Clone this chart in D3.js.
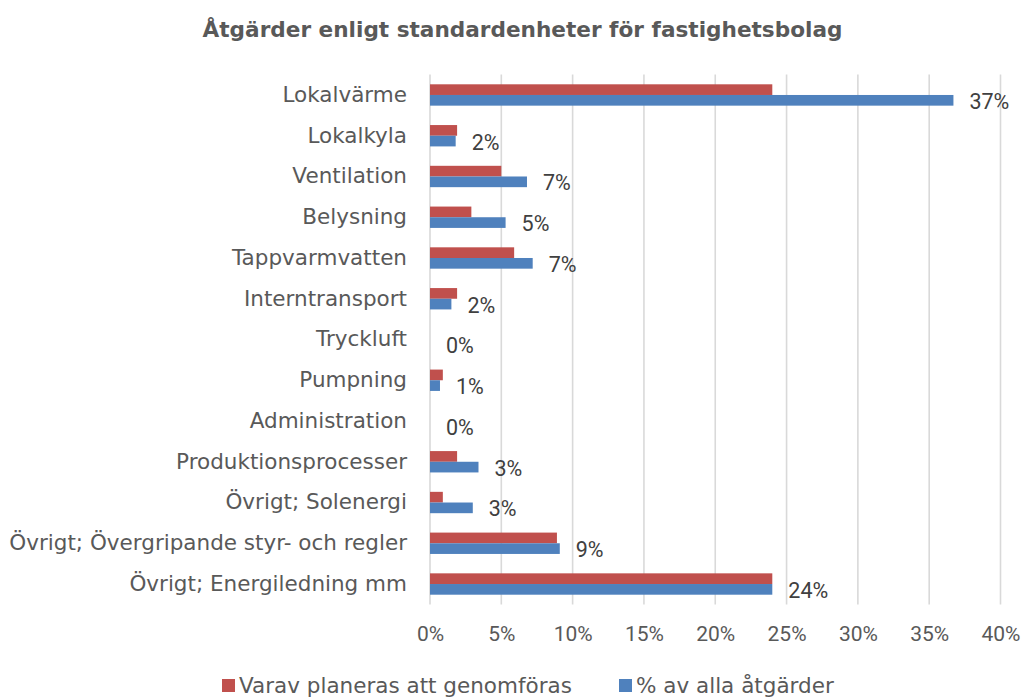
<!DOCTYPE html>
<html><head><meta charset="utf-8">
<script src="https://cdn.jsdelivr.net/npm/d3@7"></script>
<style>body{margin:0;background:#fff}</style>
</head><body>
<svg id="c" width="1024" height="698"></svg>
<script>
const categories = ["Lokalvärme","Lokalkyla","Ventilation","Belysning","Tappvarmvatten","Interntransport","Tryckluft","Pumpning","Administration","Produktionsprocesser","Övrigt; Solenergi","Övrigt; Övergripande styr- och regler","Övrigt; Energiledning mm"];
const seriesNames = ["Varav planeras att genomföras","% av alla åtgärder"];
const planned = [24.0, 1.9, 5.0, 2.9, 5.9, 1.9, 0, 0.9, 0, 1.9, 0.9, 8.9, 24.0];
const allMeasures = [36.7, 1.8, 6.8, 5.3, 7.2, 1.5, 0, 0.7, 0, 3.4, 3.0, 9.1, 24.0];
const xTicks = [0,5,10,15,20,25,30,35,40];
const colors = ["#C0504D","#4F81BD"];
const title = "Åtgärder enligt standardenheter för fastighetsbolag";

const svg = d3.select("#c");
const pL = 430, pR = 1000.5, pT = 74.6, pB = 604.4;
const x = d3.scaleLinear().domain([0,40]).range([pL,pR]);
const y = d3.scaleBand().domain(categories).range([pT,pB]).paddingInner(0).paddingOuter(0);
const sub = d3.scaleBand().domain([0,1]).range([y.bandwidth()*0.238, y.bandwidth()*0.762]);
const textCol = "#595959";

svg.append("g").selectAll("line").data(xTicks).join("line")
  .attr("x1",d=>x(d)).attr("x2",d=>x(d)).attr("y1",pT).attr("y2",pB)
  .attr("stroke","#D9D9D9").attr("stroke-width",1.6);

const xa = svg.append("g").attr("transform",`translate(0,${pB})`)
  .call(d3.axisBottom(x).tickValues(xTicks).tickFormat(d=>d+"%").tickSize(0).tickPadding(22));
xa.select(".domain").remove();
xa.selectAll("text").attr("font-family","Roboto").attr("font-size",21).attr("fill",textCol);

const ya = svg.append("g").attr("transform",`translate(${pL},0)`)
  .call(d3.axisLeft(y).tickSize(0).tickPadding(23));
ya.select(".domain").remove();
ya.selectAll("text").attr("font-family","DejaVu Sans").attr("font-size",21.5).attr("fill",textCol);

const data = categories.map((c,i)=>({c, v:[planned[i], allMeasures[i]]}));
const g = svg.append("g");
[0,1].forEach(s=>{
  g.selectAll(".b"+s).data(data).join("rect").attr("class","b"+s)
    .attr("x",x(0)).attr("y",d=>y(d.c)+sub(s)).attr("height",sub.bandwidth())
    .attr("width",d=>x(d.v[s])-x(0)).attr("fill",colors[s]);
});
g.selectAll(".lbl").data(data).join("text").attr("class","lbl")
  .attr("x",d=>x(d.v[1])+16).attr("y",d=>y(d.c)+sub(1)+sub.bandwidth()/2+1)
  .attr("dominant-baseline","central").attr("font-family","Roboto").attr("font-size",21.5)
  .attr("fill","#404040").text(d=>Math.round(d.v[1])+"%");

svg.append("text").attr("x",522.5).attr("y",37).attr("text-anchor","middle")
  .attr("font-family","DejaVu Sans").attr("font-weight","bold").attr("font-size",21.6)
  .attr("fill",textCol).text(title);

const lx = [222, 619];
seriesNames.forEach((n,i)=>{
  svg.append("rect").attr("x",lx[i]).attr("y",679).attr("width",13).attr("height",13).attr("fill",colors[i]);
  svg.append("text").attr("x",lx[i]+17).attr("y",693).attr("font-family","DejaVu Sans").attr("font-size",21.5)
    .attr("fill",textCol).text(n);
});
</script>
</body></html>
